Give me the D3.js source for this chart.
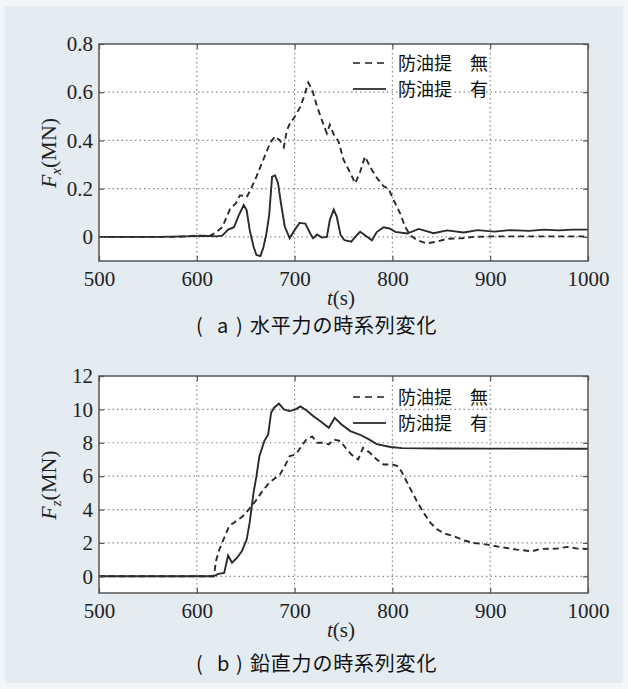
<!DOCTYPE html>
<html>
<head>
<meta charset="utf-8">
<script src="https://cdn.jsdelivr.net/npm/d3@7"></script>
<style>
  body { margin:0; background:#f3f6f9; }
  svg { display:block; }
  .tick text { font-family: "Liberation Serif", serif; font-size: 21px; fill: #222; }
</style>
</head>
<body>
<script>
// time axis ticks (s)
var tTicks = [500,600,700,800,900,1000];
var fxTicks = [0,0.2,0.4,0.6,0.8];
var fzTicks = [0,2,4,6,8,10,12];
var legendNames = ['防油提　無','防油提　有'];
var capLetters = ['a','b'];
var captions = ['水平力の時系列変化','鉛直力の時系列変化'];

// horizontal force Fx (MN), no oil fence / with oil fence  [t, value]
var fxNo = [[500,0],[540,0],[580,0],[600,0.005],[614,0.005],[620,0.02],[626,0.04],[634,0.115],[640,0.14],
  [644,0.172],[648,0.17],[651,0.165],[655,0.195],[661,0.25],[668,0.32],[675,0.39],[680,0.417],[685,0.4],
  [689,0.372],[692,0.44],[696,0.478],[699,0.49],[702,0.512],[706,0.54],[709,0.575],[714,0.64],[718,0.61],
  [723,0.54],[730,0.46],[733,0.43],[736,0.465],[740,0.425],[745,0.395],[750,0.32],[757,0.265],[762,0.222],
  [767,0.27],[772,0.333],[777,0.292],[784,0.245],[791,0.21],[796,0.2],[801,0.155],[808,0.097],[813,0.042],
  [818,0.008],[825,-0.013],[835,-0.027],[845,-0.02],[856,-0.008],[870,-0.006],[883,0],[900,0.002],[950,0.002],[1000,0.002]];
var fxYes = [[500,0],[560,0],[600,0.003],[610,0.004],[620,0.002],[626,0.005],[632,0.03],[638,0.04],[643,0.09],
  [648,0.132],[651,0.11],[654,0.03],[658,-0.04],[661,-0.075],[665,-0.08],[668,-0.045],[671,0.01],[674,0.09],
  [677,0.25],[680,0.255],[683,0.225],[686,0.14],[690,0.042],[695,-0.005],[700,0.028],[705,0.058],[711,0.055],
  [716,0.014],[719,-0.006],[723,0.01],[728,-0.003],[733,0],[736,0.07],[740,0.113],[743,0.085],[747,0.008],
  [751,-0.014],[758,-0.02],[762,0],[767,0.021],[772,0.007],[779,-0.014],[784,0.02],[791,0.04],[797,0.035],
  [803,0.021],[815,0.014],[827,0.033],[842,0.015],[856,0.027],[873,0.018],[887,0.028],[904,0.022],[920,0.028],
  [940,0.025],[955,0.03],[970,0.027],[985,0.03],[1000,0.03]];

// vertical force Fz (MN)
var fzNo = [[500,0],[617,0],[618,0.2],[619.5,0.9],[623,1.6],[628,2.3],[633,3.0],[640,3.3],[647,3.6],[653,4.0],
  [660,4.5],[667,5.1],[674,5.6],[685,6.1],[690,6.6],[695,7.2],[701,7.3],[706,7.7],[712,8.2],[718,8.38],[723,8.0],
  [730,8.0],[735,7.9],[740,8.2],[747,8.1],[752,7.7],[758,7.3],[765,7.0],[770,7.7],[777,7.4],[784,7.0],[791,6.7],
  [800,6.7],[806,6.6],[810,6.2],[817,5.4],[825,4.5],[832,3.8],[839,3.2],[846,2.8],[854,2.55],[863,2.4],[873,2.15],
  [883,2.0],[897,1.9],[910,1.76],[927,1.6],[943,1.5],[951,1.64],[968,1.66],[979,1.76],[989,1.66],[1000,1.64]];
var fzYes = [[500,0],[600,0],[617,0],[622,0.15],[628,0.2],[632,1.25],[636,0.82],[641,1.1],[646,1.5],[651,2.2],
  [654,3.2],[658,5.0],[661,6.0],[664,7.2],[669,8.1],[673,8.5],[676,9.8],[679,10.1],[684,10.35],[689,10.0],
  [695,9.9],[701,10.0],[706,10.18],[712,9.95],[719,9.6],[726,9.3],[735,8.9],[741,9.5],[748,9.1],[757,8.7],
  [767,8.48],[776,8.2],[784,7.92],[798,7.75],[810,7.68],[850,7.66],[900,7.65],[1000,7.64]];

var W = 628, H = 689;
var svg = d3.select('body').append('svg').attr('width',W).attr('height',H);
svg.append('rect').attr('x',5).attr('y',6).attr('width',W-10).attr('height',H-12).style('fill','#e4ebf1');

var ink = '#2a2a2a';

function panel(opt){
  var x = d3.scaleLinear().domain([500,1000]).range([99,588]);
  var y = d3.scaleLinear().domain(opt.domain).range([opt.bottom,opt.top]);
  var g = svg.append('g');

  g.append('rect').attr('x',99).attr('y',opt.top).attr('width',489).attr('height',opt.bottom-opt.top)
    .style('fill','#fff');

  // dotted grid
  g.selectAll('.vg').data(tTicks.slice(1,-1)).enter().append('line')
    .attr('x1',function(d){return x(d)}).attr('x2',function(d){return x(d)})
    .attr('y1',opt.top).attr('y2',opt.bottom)
    .style('stroke','#8a8a8a').style('stroke-width',1.2).style('stroke-dasharray','1.5,3');
  g.selectAll('.hg').data(opt.ticks.filter(function(d){return d!=opt.domain[1]})).enter().append('line')
    .attr('y1',function(d){return y(d)}).attr('y2',function(d){return y(d)})
    .attr('x1',99).attr('x2',588)
    .style('stroke','#8a8a8a').style('stroke-width',1.2).style('stroke-dasharray','1.5,3');

  // lines
  var line = d3.line().x(function(d){return x(d[0])}).y(function(d){return y(d[1])});
  g.append('path').datum(opt.no).attr('d',line)
    .style('fill','none').style('stroke',ink).style('stroke-width',1.9).style('stroke-dasharray','6,4');
  g.append('path').datum(opt.yes).attr('d',line)
    .style('fill','none').style('stroke',ink).style('stroke-width',1.9);

  // axes, ticks inward on all sides
  var ax = g.append('g').attr('transform','translate(0,'+opt.bottom+')')
    .call(d3.axisBottom(x).tickValues(tTicks).tickSizeInner(-5).tickSizeOuter(0).tickPadding(10)
      .tickFormat(d3.format('d')));
  var ay = g.append('g').attr('transform','translate(99,0)')
    .call(d3.axisLeft(y).tickValues(opt.ticks).tickSizeInner(-5).tickSizeOuter(0).tickPadding(6)
      .tickFormat(opt.fmt));
  g.append('g').attr('transform','translate(588,0)')
    .call(d3.axisRight(y).tickValues(opt.ticks).tickSizeInner(-5).tickSizeOuter(0).tickFormat(''));
  g.append('g').attr('transform','translate(0,'+opt.top+')')
    .call(d3.axisTop(x).tickValues(tTicks).tickSizeInner(-5).tickSizeOuter(0).tickFormat(''));
  g.selectAll('.domain').remove();
  g.selectAll('.tick line').style('stroke','#555').style('stroke-width',1.2);
  ax.attr('font-family',null).attr('font-size',null);
  ay.attr('font-family',null).attr('font-size',null);
  ax.selectAll('.tick text').attr('dy','0.72em');

  g.append('rect').attr('x',99).attr('y',opt.top).attr('width',489).attr('height',opt.bottom-opt.top)
    .style('fill','none').style('stroke','#555').style('stroke-width',1.5);

  // legend
  var lg = g.selectAll('.lg').data(legendNames).enter().append('g')
    .attr('transform',function(d,i){return 'translate(0,'+(opt.legY+i*26)+')'});
  lg.append('line').attr('x1',353).attr('x2',386).attr('y1',0).attr('y2',0)
    .style('stroke',function(d,i){return i==0?'#555':'#444'}).style('stroke-width',2)
    .style('stroke-dasharray',function(d,i){return i==0?'7,5':null});
  lg.append('text').attr('x',398).attr('y',7).text(function(d){return d})
    .style('font-family','"Noto Sans CJK JP", sans-serif').style('font-size','18px').style('fill','#111');

  // axis titles
  var xt = g.append('text').attr('x',341).attr('y',opt.bottom+44).attr('text-anchor','middle')
    .style('font-family','"Liberation Serif", serif').style('font-size','21px').style('fill','#222');
  xt.append('tspan').style('font-style','italic').text('t');
  xt.append('tspan').text('(s)');

  var yt = g.append('text').attr('transform','translate(56,'+opt.yMid+') rotate(-90)').attr('text-anchor','middle')
    .style('font-family','"Liberation Serif", serif').style('font-size','22px').style('fill','#222');
  yt.append('tspan').style('font-style','italic').text('F');
  yt.append('tspan').style('font-style','italic').style('font-size','15px').attr('dy',5).text(opt.sub);
  yt.append('tspan').attr('dy',-5).text('(MN)');

  // caption
  var cap = svg.append('text').attr('y',opt.capY)
    .style('font-family','"Noto Sans CJK JP", sans-serif').style('font-size','20px').style('fill','#111');
  cap.append('tspan').attr('x',196).text('(');
  cap.append('tspan').attr('x',217).text(opt.letter);
  cap.append('tspan').attr('x',236).text(')');
  cap.append('tspan').attr('x',250).style('letter-spacing','0.8px').text(opt.caption);
}

panel({domain:[-0.1,0.8], top:44, bottom:261, ticks:fxTicks, no:fxNo, yes:fxYes, sub:'x',
  fmt:function(d){return d===0?'0':d.toFixed(1)}, legY:63, yMid:153, capY:333,
  letter:capLetters[0], caption:captions[0]});
panel({domain:[-1,12], top:376, bottom:593, ticks:fzTicks, no:fzNo, yes:fzYes, sub:'z',
  fmt:function(d){return d}, legY:397, yMid:485, capY:671,
  letter:capLetters[1], caption:captions[1]});
</script>
</body>
</html>
